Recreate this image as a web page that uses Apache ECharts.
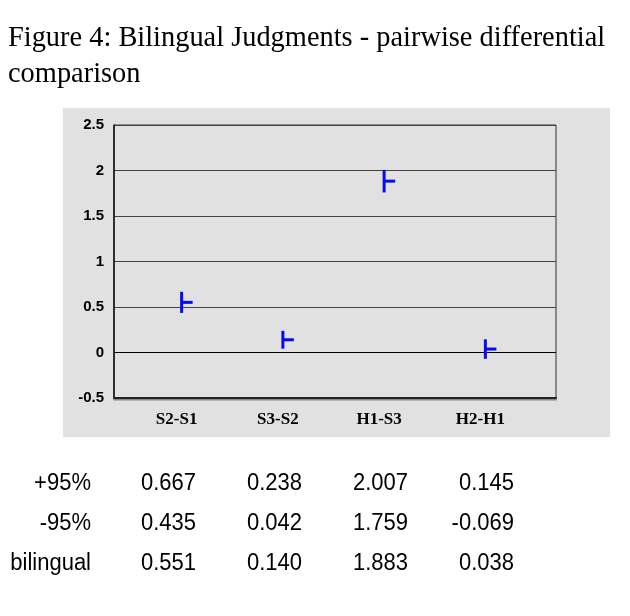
<!DOCTYPE html>
<html>
<head>
<meta charset="utf-8">
<script src="https://cdn.jsdelivr.net/npm/echarts@6/dist/echarts.min.js"></script>
<style>html,body{margin:0;padding:0;background:#fff;}#c{width:630px;height:616px;}</style>
</head>
<body>
<div id="c"></div>
<script>
const titleLines = ['Figure 4: Bilingual Judgments - pairwise differential', 'comparison'];
const categories = ['S2-S1', 'S3-S2', 'H1-S3', 'H2-H1'];
const upper95 = [0.667, 0.238, 2.007, 0.145];
const lower95 = [0.435, 0.042, 1.759, -0.069];
const bilingual = [0.551, 0.140, 1.883, 0.038];
const rowLabels = ['+95%', '-95%', 'bilingual'];
const yTicks = { min: -0.5, max: 2.5, step: 0.5 };

const chart = echarts.init(document.getElementById('c'), null, { renderer: 'canvas' });

const seriesData = categories.map((c, i) => [i, lower95[i], upper95[i], bilingual[i]]);

const serif = '"Liberation Serif", "Times New Roman", serif';
const sans = '"Liberation Sans", Arial, sans-serif';

// title text
const titleY = [38, 74];
const titleEls = titleLines.map((t, i) => ({
  type: 'text', x: 8, y: titleY[i], scaleY: 1.06,
  style: { text: t, fill: '#000', font: '28.4px ' + serif, textAlign: 'left', textVerticalAlign: 'middle' }
}));

// table text (built from the data arrays)
const tableRows = [upper95, lower95, bilingual];
const rowY = [484, 524, 564];
const colRight = [91, 196, 302, 408, 514];
const tableEls = [];
const tStyle = (txt) => ({ text: txt, fill: '#000', font: '22px ' + sans, textAlign: 'right', textVerticalAlign: 'middle' });
tableRows.forEach((vals, r) => {
  tableEls.push({ type: 'text', x: colRight[0], y: rowY[r], scaleY: 1.05, style: tStyle(rowLabels[r]) });
  vals.forEach((v, i) => {
    tableEls.push({ type: 'text', x: colRight[i + 1], y: rowY[r], scaleY: 1.05, style: tStyle(v.toFixed(3)) });
  });
});

const option = {
  backgroundColor: '#fff',
  animation: false,
  graphic: [
    { type: 'rect', z: -10, shape: { x: 63, y: 108, width: 547, height: 329 }, style: { fill: '#e1e1e1' } }
  ].concat(titleEls, tableEls),
  grid: [
    { left: 114, right: 74, top: 125, bottom: 218, show: true, borderColor: '#333', borderWidth: 1, backgroundColor: 'transparent' },
    { left: 131, right: 94, top: 125, bottom: 218 }
  ],
  xAxis: [
    { type: 'value', gridIndex: 0, min: 0, max: 1, axisLine: { show: true, onZero: false, lineStyle: { color: '#222', width: 2, shadowColor: '#888', shadowOffsetY: 1.5, shadowBlur: 0 } }, axisTick: { show: false }, axisLabel: { show: false }, splitLine: { show: false } },
    { type: 'category', gridIndex: 1, data: categories, boundaryGap: true, axisLine: { show: false }, axisTick: { show: false }, splitLine: { show: false },
      axisLabel: { margin: 13, color: '#000', fontFamily: serif, fontWeight: 'bold', fontSize: 17, padding: [0, 10, 0, 0] } }
  ],
  yAxis: [
    { type: 'value', gridIndex: 0, min: yTicks.min, max: yTicks.max, interval: yTicks.step,
      axisLine: { show: true, lineStyle: { color: '#111', width: 1.5 } }, axisTick: { show: false },
      axisLabel: { margin: 10, color: '#000', fontFamily: sans, fontWeight: 'bold', fontSize: 15, formatter: v => String(Math.round(v * 10) / 10) },
      splitLine: { show: true, lineStyle: { color: ['#444', '#000', '#444', '#444', '#444', '#444', '#444'], width: 1.2 } } },
    { type: 'value', gridIndex: 1, min: yTicks.min, max: yTicks.max, interval: yTicks.step, show: false, splitLine: { show: false } }
  ],
  series: [{
    type: 'custom', xAxisIndex: 1, yAxisIndex: 1, data: seriesData,
    renderItem: function (params, api) {
      const lo = api.coord([api.value(0), api.value(1)]);
      const hi = api.coord([api.value(0), api.value(2)]);
      const mid = api.coord([api.value(0), api.value(3)]);
      const st = { stroke: '#0a0aee', lineWidth: 3 };
      return { type: 'group', children: [
        { type: 'line', shape: { x1: lo[0], y1: lo[1], x2: hi[0], y2: hi[1] }, style: st },
        { type: 'line', shape: { x1: mid[0], y1: mid[1], x2: mid[0] + 11, y2: mid[1] }, style: st }
      ] };
    },
    z: 10
  }]
};
chart.setOption(option);
</script>
</body>
</html>
